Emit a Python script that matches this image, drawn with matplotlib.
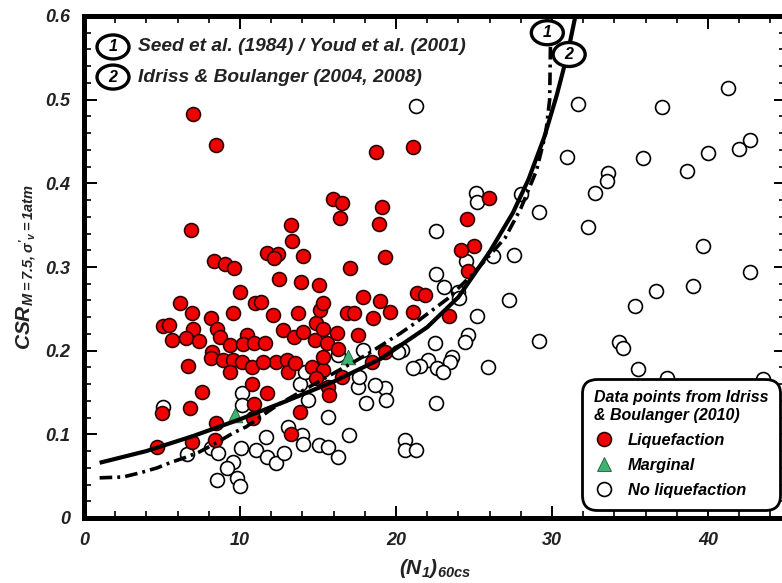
import matplotlib
matplotlib.use("Agg")
import matplotlib.pyplot as plt
from matplotlib.lines import Line2D
from matplotlib.patches import Ellipse

# ---------------- data ----------------
liq_n = [6.99, 8.46, 6.86, 8.33, 9.04, 9.62, 10.0, 11.73, 12.44, 12.18, 13.27, 13.33, 14.04, 12.5,
         13.91, 15.06, 15.96, 16.54, 16.41, 17.05, 18.72, 19.1, 18.91, 19.29, 21.09, 25.96, 24.55,
         25.0, 24.17, 24.62, 21.35, 21.86, 21.09, 19.62, 23.4, 19.29, 6.15, 6.92, 8.14, 9.55, 5.06,
         5.45, 6.99, 6.54, 5.64, 7.37, 8.53, 8.72, 9.36, 10.45, 10.19, 8.21, 8.14, 8.91, 9.55, 10.13,
         9.36, 6.67, 10.77, 10.96, 11.35, 10.9, 11.6, 12.12, 12.76, 12.31, 11.47, 13.01, 13.08, 13.46,
         13.72, 14.04, 13.53, 14.87, 14.81, 15.13, 15.32, 15.32, 15.58, 14.62, 15.32, 14.87, 15.32,
         16.22, 16.28, 16.86, 17.31, 17.56, 17.88, 18.53, 18.97, 18.46, 15.64, 15.71, 16.54, 10.77,
         11.73, 10.9, 13.85, 13.27, 10.83, 8.46, 8.4, 7.56, 6.79, 5.0, 4.68, 6.92]
liq_csr = [0.483, 0.446, 0.344, 0.307, 0.303, 0.299, 0.270, 0.317, 0.315, 0.311, 0.350, 0.331, 0.313,
           0.286, 0.282, 0.278, 0.381, 0.376, 0.358, 0.299, 0.437, 0.372, 0.351, 0.312, 0.444, 0.382,
           0.357, 0.325, 0.320, 0.295, 0.269, 0.266, 0.246, 0.246, 0.241, 0.198, 0.257, 0.245, 0.239,
           0.245, 0.229, 0.231, 0.226, 0.215, 0.213, 0.211, 0.226, 0.216, 0.207, 0.219, 0.208, 0.198,
           0.191, 0.189, 0.189, 0.186, 0.174, 0.182, 0.180, 0.257, 0.258, 0.209, 0.209, 0.243, 0.225,
           0.186, 0.186, 0.189, 0.174, 0.216, 0.245, 0.222, 0.185, 0.233, 0.213, 0.249, 0.257, 0.226,
           0.209, 0.180, 0.177, 0.167, 0.192, 0.221, 0.202, 0.245, 0.245, 0.219, 0.264, 0.239, 0.259,
           0.186, 0.157, 0.147, 0.168, 0.160, 0.149, 0.136, 0.127, 0.100, 0.119, 0.113, 0.093, 0.151,
           0.131, 0.125, 0.085, 0.091]

marg_n = [9.68, 16.92]
marg_csr = [0.123, 0.192]

noliq_n = [21.28, 31.67, 37.05, 41.28, 30.96, 35.83, 40.0, 41.99, 42.69, 38.65, 33.59, 33.53, 32.76,
           25.13, 25.19, 28.01, 29.17, 32.31, 22.56, 39.68, 27.56, 26.22, 42.69, 22.56, 24.49, 23.08,
           39.04, 36.67, 27.24, 23.97, 24.04, 35.32, 25.19, 20.38, 29.17, 34.29, 34.55, 24.62, 24.42,
           22.5, 22.05, 23.59, 23.46, 21.54, 21.09, 22.63, 23.01, 25.9, 35.51, 37.37, 43.53, 22.56,
           19.29, 19.36, 20.58, 20.58, 21.28, 5.06, 10.13, 10.13, 6.6, 8.14, 8.59, 9.55, 9.17, 8.53,
           9.81, 10.0, 10.06, 11.03, 11.67, 11.73, 12.31, 12.82, 13.08, 13.97, 14.04, 15.06, 15.64,
           15.64, 16.28, 16.99, 13.85, 14.36, 17.56, 18.08, 18.65, 17.88, 20.13, 17.63, 14.17, 16.28]
noliq_csr = [0.492, 0.495, 0.491, 0.514, 0.432, 0.430, 0.436, 0.441, 0.452, 0.415, 0.412, 0.403, 0.388,
             0.388, 0.378, 0.387, 0.366, 0.348, 0.343, 0.325, 0.314, 0.313, 0.294, 0.292, 0.307, 0.276,
             0.277, 0.271, 0.260, 0.270, 0.263, 0.253, 0.241, 0.201, 0.211, 0.210, 0.203, 0.219, 0.210,
             0.209, 0.189, 0.192, 0.186, 0.182, 0.179, 0.179, 0.174, 0.180, 0.178, 0.167, 0.166, 0.137,
             0.155, 0.141, 0.093, 0.081, 0.081, 0.133, 0.149, 0.135, 0.076, 0.084, 0.078, 0.067, 0.060,
             0.045, 0.048, 0.038, 0.084, 0.081, 0.097, 0.073, 0.066, 0.078, 0.109, 0.099, 0.088, 0.087,
             0.085, 0.121, 0.073, 0.099, 0.160, 0.141, 0.157, 0.137, 0.159, 0.201, 0.198, 0.168, 0.174,
             0.195]

# Curve 1: Seed et al. (1984) / Youd et al. (2001)  (dash-dot)
curve1_n = [1.0, 2.5, 3.6, 4.7, 5.5, 6.6, 7.4, 8.5, 9.6, 10.4, 12.4, 14.0, 16.0, 18.1, 20.3, 21.3,
            23.3, 25.0, 27.0, 28.0, 29.0, 29.6, 29.85, 29.9]
curve1_csr = [0.048, 0.049, 0.054, 0.060, 0.066, 0.073, 0.079, 0.090, 0.102, 0.109, 0.135, 0.152,
              0.173, 0.195, 0.221, 0.234, 0.262, 0.293, 0.335, 0.370, 0.415, 0.460, 0.500, 0.565]

# Curve 2: Idriss & Boulanger (2004, 2008)  (solid)
curve2_n = [1.0, 4.0, 7.0, 10.0, 13.0, 16.0, 19.0, 22.0, 24.0, 26.0, 27.5, 28.5, 29.5, 30.3, 31.0, 31.5]
curve2_csr = [0.066, 0.080, 0.098, 0.118, 0.140, 0.163, 0.190, 0.228, 0.264, 0.318, 0.365, 0.405,
              0.455, 0.505, 0.555, 0.600]

x_ticks = [0, 10, 20, 30, 40]
x_ticklabels = ["0", "10", "20", "30", "40"]
y_ticks = [0, 0.1, 0.2, 0.3, 0.4, 0.5, 0.6]
y_ticklabels = ["0", "0.1", "0.2", "0.3", "0.4", "0.5", "0.6"]

label1 = "Seed et al. (1984) / Youd et al. (2001)"
label2 = "Idriss & Boulanger (2004, 2008)"
legend_title = "Data points from Idriss\n& Boulanger (2010)"
legend_labels = ["Liquefaction", "Marginal", "No liquefaction"]

# ---------------- style ----------------
FONT = "Liberation Sans"
plt.rcParams["font.family"] = [FONT, "DejaVu Sans"]
plt.rcParams["mathtext.fontset"] = "custom"
plt.rcParams["mathtext.rm"] = "Liberation Sans:bold:italic"
plt.rcParams["mathtext.it"] = "Liberation Sans:bold:italic"
plt.rcParams["mathtext.bf"] = "Liberation Sans:bold:italic"

fig = plt.figure(figsize=(7.82, 5.83), dpi=100)
W, H = 782, 583
ax_left, ax_right, ax_top, ax_bot = 84, 786, 16, 518
ax = fig.add_axes([ax_left / W, 1 - ax_bot / H, (ax_right - ax_left) / W, (ax_bot - ax_top) / H])
ax.set_xlim(0, 45)
ax.set_ylim(0, 0.6)
px_x = 45 / (ax_right - ax_left)      # data units per pixel (x)
px_y = 0.6 / (ax_bot - ax_top)        # data units per pixel (y)

RED = "#f00000"
GREEN = "#3cb371"
TXT = "#222222"

ax.scatter(noliq_n, noliq_csr, s=100, facecolor="white", edgecolor="black", linewidths=1.2, zorder=2)
ax.scatter(liq_n, liq_csr, s=100, facecolor=RED, edgecolor="#300000", linewidths=1.2, zorder=3)
ax.scatter(marg_n, marg_csr, s=110, marker="^", facecolor=GREEN, edgecolor="#1d5c35", linewidths=0.6, zorder=4)

ax.plot(curve2_n, curve2_csr, color="black", lw=3.0, solid_capstyle="butt", zorder=5, clip_on=False)
ax.plot(curve1_n, curve1_csr, color="black", lw=2.6, dashes=(3.5, 1.4, 0.8, 1.4), zorder=5)


def ellipse_label(x, y, num, wpx=32, hpx=24, fs=11.5):
    e = Ellipse((x, y), wpx * px_x, hpx * px_y, fc="white", ec="black", lw=2.4, zorder=6, clip_on=False)
    ax.add_patch(e)
    ax.text(x, y, num, ha="center", va="center", fontsize=fs, fontweight="bold",
            fontstyle="italic", zorder=7, clip_on=False)


# curve labels
ellipse_label(29.7, 0.580, "1")
ellipse_label(31.1, 0.554, "2")

# top-left key
for yy, num, lab in [(0.563, "1", label1), (0.527, "2", label2)]:
    ellipse_label(1.86, yy, num)
    ax.text(3.45, yy, lab, ha="left", va="center", fontsize=13.8, fontweight="bold",
            fontstyle="italic", color=TXT, zorder=6)

# ticks
ax.set_xticks(x_ticks)
ax.set_xticklabels(x_ticklabels)
ax.set_yticks(y_ticks)
ax.set_yticklabels(y_ticklabels)
ax.set_xticks([v for v in range(0, 46, 2) if v % 10 != 0], minor=True)
ax.set_yticks([i * 0.02 for i in range(31) if i % 5 != 0], minor=True)
ax.tick_params(which="both", direction="in", top=True, right=True, colors="black")
ax.tick_params(which="major", length=9, width=1.4, pad=10, labelsize=13, labelcolor=TXT)
ax.tick_params(which="minor", length=5, width=1.2)
for lbl in ax.get_xticklabels() + ax.get_yticklabels():
    lbl.set_fontweight("bold")
    lbl.set_fontstyle("italic")
for sp in ax.spines.values():
    sp.set_linewidth(3.6)
    sp.set_zorder(7)

ax.set_xlabel(r"(N$_{1}$)$_{60cs}$", fontsize=15, fontweight="bold", fontstyle="italic",
              labelpad=6, color=TXT)
ax.set_ylabel(r"CSR$_{M=7.5,\sigma'_{v} = 1atm}$", fontsize=15, fontweight="bold",
              fontstyle="italic", labelpad=5, color=TXT)

# legend
handles = [
    Line2D([], [], ls="none", marker="o", ms=10, mfc=RED, mec="#300000", mew=1.2),
    Line2D([], [], ls="none", marker="^", ms=10.5, mfc=GREEN, mec="#1d5c35", mew=0.6),
    Line2D([], [], ls="none", marker="o", ms=10, mfc="white", mec="black", mew=1.2),
]
leg = ax.legend(handles, legend_labels, title=legend_title, loc="lower right",
                bbox_to_anchor=((780 - ax_left) / (ax_right - ax_left), (518 - 510) / (ax_bot - ax_top)),
                borderaxespad=0, frameon=True, fancybox=True, framealpha=1, edgecolor="black",
                prop=dict(family=FONT, weight="bold", style="italic", size=11.8),
                title_fontproperties=dict(family=FONT, weight="bold", style="italic", size=11.5),
                handletextpad=0.8, labelspacing=0.62, borderpad=0.72, handlelength=1.3)
leg._legend_box.align = "left"
leg.get_frame().set_linewidth(2.0)
leg.get_frame().set_boxstyle("round,pad=0,rounding_size=0.9")
leg.set_zorder(8)

fig.savefig("out.png", dpi=100, facecolor="white")
